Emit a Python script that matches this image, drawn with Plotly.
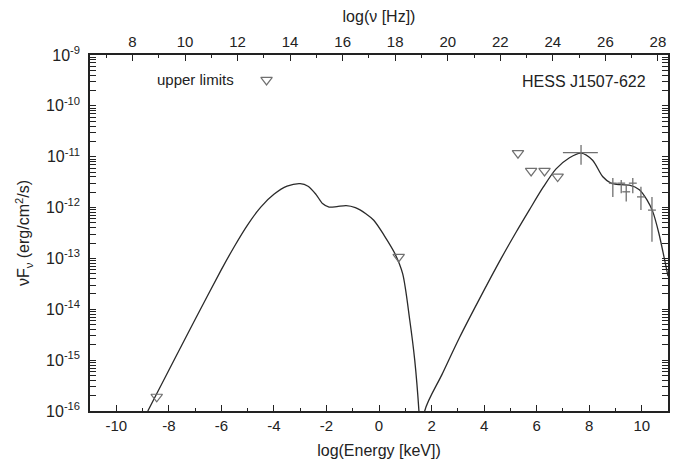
import numpy as np
import plotly.graph_objects as go

# ---------------- data ----------------
HZ_OFFSET = np.log10(2.418e17)  # log(nu[Hz]) = log(E[keV]) + offset

# model curve (log E [keV], log nuFnu)
MODEL_X = [-8.8, -8.0, -7.0, -6.0, -5.5, -5.0, -4.5, -4.0, -3.5, -3.0, -2.7, -2.4, -2.15, -1.9,
           -1.6, -1.25, -0.9, -0.5, -0.2, 0.2, 0.6, 0.9, 1.17, 1.36, 1.52, 1.62,
           1.66, 1.74, 2.4, 3.07, 3.8, 4.65, 5.2, 5.73, 6.25, 6.74, 7.25, 7.69,
           8.13, 8.51, 8.83, 9.2, 9.53, 9.91, 10.2, 10.42, 10.65, 10.86, 11.0]
MODEL_LOGY = [-16.0, -15.2, -14.2, -13.22, -12.76, -12.34, -11.99, -11.74, -11.58, -11.53, -11.58, -11.74, -11.92, -11.99,
              -11.98, -11.96, -12.0, -12.12, -12.25, -12.55, -12.9, -13.3, -14.21, -15.0, -16.0, -17.0,
              -17.0, -16.0, -15.28, -14.55, -13.82, -13.0, -12.5, -12.04, -11.6, -11.24, -11.02, -10.93,
              -11.07, -11.39, -11.52, -11.55, -11.56, -11.65, -11.85, -12.08, -12.5, -13.0, -13.35]

# upper limits (log E [keV], log nuFnu)
UL_X = [-8.46, 0.75, 5.29, 5.79, 6.30, 6.80]
UL_LOGY = [-15.72, -12.97, -10.93, -11.28, -11.28, -11.39]

# measured points: centre, x extents, y extents (log)
PT_X = [7.69, 8.90, 9.22, 9.41, 9.66, 9.97, 10.39]
PT_XLO = [7.00, 8.75, 9.07, 9.26, 9.51, 9.82, 10.24]
PT_XHI = [8.33, 9.05, 9.37, 9.56, 9.81, 10.12, 10.54]
PT_LOGY = [-10.92, -11.52, -11.52, -11.69, -11.52, -11.79, -12.05]
PT_LOGY_LO = [-11.16, -11.79, -11.72, -11.88, -11.72, -12.05, -12.67]
PT_LOGY_HI = [-10.77, -11.42, -11.46, -11.56, -11.42, -11.59, -11.79]

X_TICKS = list(range(-10, 11, 2))
HZ_TICKS = list(range(8, 29, 2))
Y_TICK_EXP = list(range(-16, -8))
X_RANGE = [-11, 11]
Y_RANGE_EXP = [-16, -9]

# ---------------- figure ----------------
FONT = "Liberation Sans, Arial, sans-serif"
INK = "#222222"
GRAY = "#707070"

fig = go.Figure()

fig.add_trace(go.Scatter(
    x=MODEL_X, y=[10 ** v for v in MODEL_LOGY], mode="lines",
    line=dict(color="#2a2a2a", width=1.3, shape="spline", smoothing=0.8),
    showlegend=False, hoverinfo="skip"))

pt_y = [10 ** v for v in PT_LOGY]
fig.add_trace(go.Scatter(
    x=PT_X, y=pt_y, mode="markers",
    marker=dict(size=1, color="rgba(0,0,0,0)"),
    error_x=dict(type="data", symmetric=False,
                 array=[h - c for h, c in zip(PT_XHI, PT_X)],
                 arrayminus=[c - l for l, c in zip(PT_XLO, PT_X)],
                 color=GRAY, thickness=1.3, width=0),
    error_y=dict(type="data", symmetric=False,
                 array=[10 ** h - y for h, y in zip(PT_LOGY_HI, pt_y)],
                 arrayminus=[y - 10 ** l for l, y in zip(PT_LOGY_LO, pt_y)],
                 color=GRAY, thickness=1.3, width=0),
    showlegend=False, hoverinfo="skip"))

UL_MARKER = dict(symbol="triangle-down-open", size=10, color=GRAY, line=dict(width=1.2, color=GRAY))
fig.add_trace(go.Scatter(
    x=UL_X, y=[10 ** v for v in UL_LOGY], mode="markers", marker=UL_MARKER,
    showlegend=False, hoverinfo="skip"))

# legend key for "upper limits"
KEY_X, KEY_LOGY = -4.28, -9.49
fig.add_trace(go.Scatter(
    x=[KEY_X], y=[10 ** KEY_LOGY], mode="markers", marker=UL_MARKER,
    showlegend=False, hoverinfo="skip"))

# invisible trace so the top frequency axis is drawn
fig.add_trace(go.Scatter(
    x=[X_RANGE[0] + HZ_OFFSET, X_RANGE[1] + HZ_OFFSET], y=[10 ** -17, 10 ** -17],
    xaxis="x2", mode="markers", marker=dict(opacity=0), showlegend=False, hoverinfo="skip"))

minor_y = [m * 10 ** e for e in range(Y_RANGE_EXP[0], Y_RANGE_EXP[1]) for m in range(2, 10)]

TICKFONT = dict(family=FONT, size=15, color=INK)
# page body has an 8px default margin: compensate so the plot frame sits at 90..668 x 55..411
fig.update_layout(
    width=678, height=458,
    margin=dict(l=82, r=18, t=47, b=55),
    paper_bgcolor="white", plot_bgcolor="white",
    font=dict(family=FONT, size=15, color=INK),
    xaxis=dict(range=X_RANGE, tickvals=X_TICKS, ticktext=[str(v) for v in X_TICKS],
               ticks="inside", ticklen=6, tickwidth=1.2, tickfont=TICKFONT,
               tickcolor=INK, showline=True, linecolor=INK, linewidth=1.5, mirror=True,
               showgrid=False, zeroline=False, automargin=False,
               minor=dict(dtick=1, tick0=-10, ticks="inside", ticklen=3, tickwidth=1.2, tickcolor=INK),
               title=dict(text="log(Energy [keV])", standoff=12, font=dict(size=16))),
    xaxis2=dict(overlaying="x", side="top", anchor="y",
                range=[X_RANGE[0] + HZ_OFFSET, X_RANGE[1] + HZ_OFFSET],
                tickvals=HZ_TICKS, ticktext=[str(v) for v in HZ_TICKS],
                ticks="inside", ticklen=6, tickwidth=1.2, tickcolor=INK, tickfont=TICKFONT,
                ticklabelstandoff=4,
                showline=False, showgrid=False, zeroline=False, automargin=False,
                minor=dict(dtick=1, tick0=8, ticks="inside", ticklen=3, tickwidth=1.2, tickcolor=INK),
                title=dict(text="log(ν [Hz])", standoff=8, font=dict(size=16))),
    yaxis=dict(type="log", range=Y_RANGE_EXP,
               tickvals=[10 ** e for e in Y_TICK_EXP],
               ticktext=["10<sup>%d</sup>" % e for e in Y_TICK_EXP],
               ticks="inside", ticklen=6, tickwidth=1.2, tickcolor=INK,
               tickfont=dict(family=FONT, size=16, color=INK), ticklabelstandoff=5,
               showline=True, linecolor=INK, linewidth=1.5, mirror="allticks",
               showgrid=False, zeroline=False, automargin=False,
               minor=dict(tickvals=minor_y, ticks="inside", ticklen=3, tickwidth=1, tickcolor=INK),
               title=dict(text="νF<sub>ν</sub> (erg/cm<sup>2</sup>/s)", standoff=12, font=dict(size=16))),
    annotations=[
        dict(text="upper limits", xref="paper", yref="paper", x=0.113, y=0.93,
             xanchor="left", yanchor="middle", showarrow=False, font=dict(size=15)),
        dict(text="HESS J1507-622", xref="paper", yref="paper", x=0.966, y=0.925,
             xanchor="right", yanchor="middle", showarrow=False, font=dict(size=16)),
    ],
)

fig.write_html("out.html")
